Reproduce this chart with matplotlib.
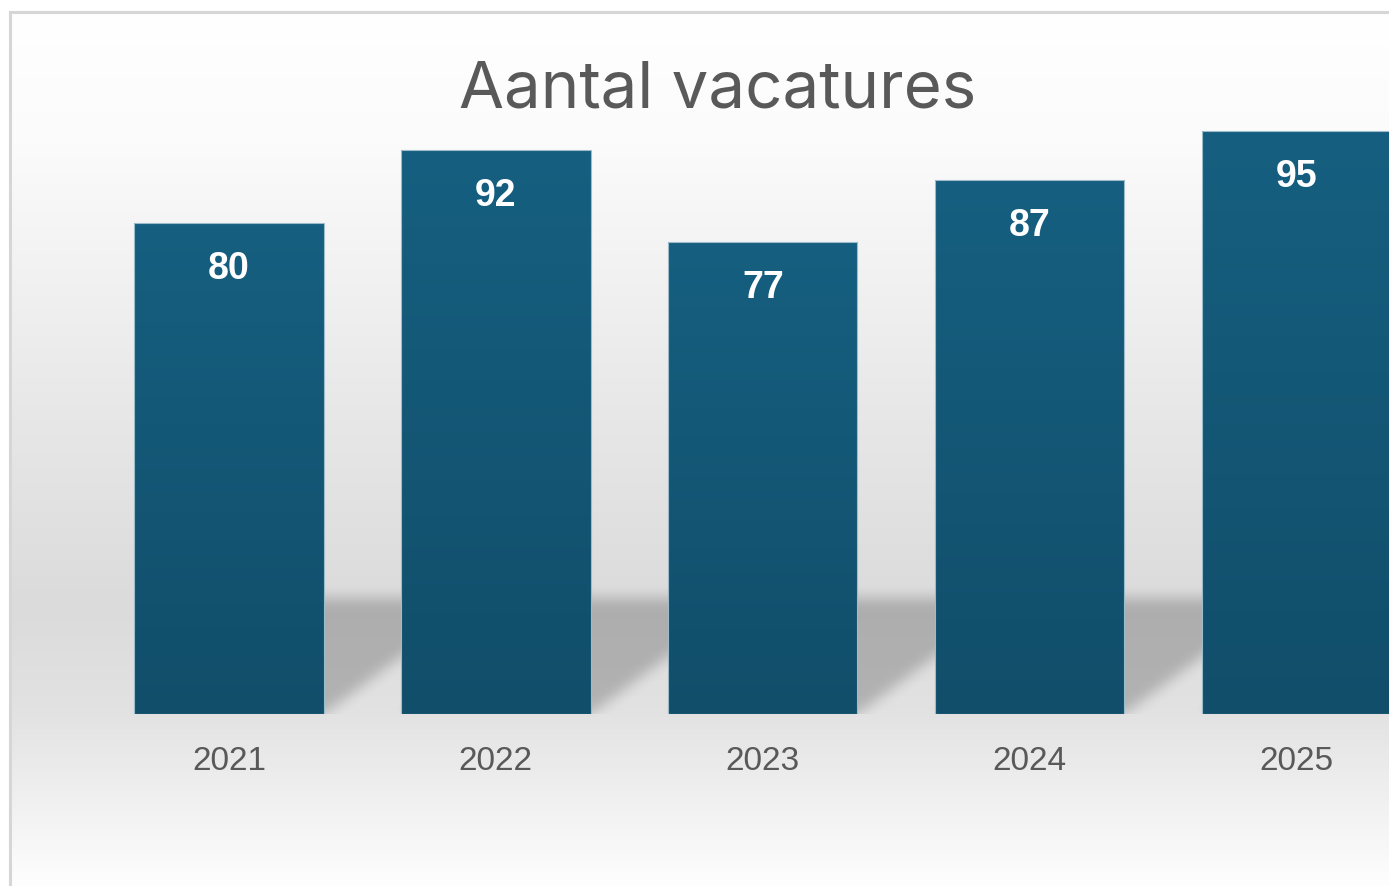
import numpy as np
import matplotlib.pyplot as plt

# data
years = ['2021', '2022', '2023', '2024', '2025']
vacatures = [80, 92, 77, 87, 95]

W, H = 1389, 886
fig = plt.figure(figsize=(W / 100, H / 100), dpi=100)
plt.rcParams['font.family'] = ['Liberation Sans', 'DejaVu Sans']

# chart area background: frame with a soft grey vertical gradient
bg = fig.add_axes([0, 0, 1, 1])
bg.set_xlim(0, W)
bg.set_ylim(H, 0)
bg.axis('off')
stops_t = [0.0, 0.15, 0.45, 0.68, 0.8, 0.9, 1.0]
stops_g = [255, 251, 232, 219, 226, 240, 254]
t = np.linspace(0, 1, 400)
g = np.interp(t, stops_t, stops_g) / 255
bg_img = np.repeat(g[:, None], 3, axis=1)[:, None, :]
bg.imshow(bg_img, extent=[10, W, H, 12], aspect='auto', interpolation='bilinear')
bg.plot([9.5, 9.5, W], [H, 11.5, 11.5], color='#d6d6d6', lw=2.2, solid_joinstyle='miter')
bg.set_xlim(0, W)
bg.set_ylim(H, 0)

# plot axes (wider than the figure, last bar is cut off like in the screenshot)
ax = fig.add_axes([95.5 / W, 172 / H, 1334.5 / W, 613.5 / H])
ax.patch.set_alpha(0)

x = np.arange(len(years))
bw = 0.71

# perspective shadow behind the bars
sh_h = 18.8
skew = 0.58
xs = np.linspace(-0.5, 4.5, 1335)
ys = np.linspace(-4, 26, 184)
XX, YY = np.meshgrid(xs, ys)
mask = np.zeros_like(XX)
for xi in x:
    left = xi - bw / 2 + skew * np.clip(YY / sh_h, 0, None)
    inside = (YY >= 0) & (YY <= sh_h) & (XX >= left) & (XX <= left + bw)
    mask[inside] = 1.0


def box_blur(a, k, axis):
    kern = np.ones(k) / k
    return np.apply_along_axis(lambda v: np.convolve(v, kern, mode='same'), axis, a)


for _ in range(3):
    mask = box_blur(mask, 13, 0)
    mask = box_blur(mask, 11, 1)

shadow = np.zeros(mask.shape + (4,))
shadow[..., 3] = mask * 0.21
ax.imshow(shadow, extent=[-0.5, 4.5, -4, 26], origin='lower', aspect='auto',
          interpolation='bilinear', zorder=1)

# bars with a subtle vertical gradient
bars = ax.bar(x, vacatures, width=bw, color='#135874', linewidth=0, zorder=2)
top_c = np.array([0x16, 0x5f, 0x80]) / 255
bot_c = np.array([0x11, 0x4e, 0x6a]) / 255
f = np.linspace(0, 1, 200)[:, None]
bar_grad = (bot_c[None, :] * (1 - f) + top_c[None, :] * f)[:, None, :]
for xi, v, patch in zip(x, vacatures, bars):
    im = ax.imshow(bar_grad, extent=[xi - bw / 2, xi + bw / 2, 0, v], origin='lower',
                   aspect='auto', interpolation='bilinear', zorder=2.1)
    im.set_clip_path(patch)
ax.bar(x, vacatures, width=bw, fill=False, edgecolor='#9dbccb', linewidth=0.8, zorder=3)

for xi, v in zip(x, vacatures):
    ax.text(xi, v - 7.5, str(v), ha='center', va='center', color='white',
            fontsize=27, fontweight='bold', zorder=4)

ax.set_xlim(-0.5, 4.5)
ax.set_ylim(0, 100)
ax.set_xticks(x, years)
ax.set_yticks([])
ax.tick_params(axis='x', length=0, pad=23, labelsize=24, labelcolor='#595959')
for s in ax.spines.values():
    s.set_visible(False)

fig.text(718 / W, 1 - 108 / H, 'Aantal vacatures', ha='center', va='baseline',
         fontsize=47, color='#595959', family=['Inter', 'DejaVu Sans'])

fig.savefig('out.png', dpi=100)
